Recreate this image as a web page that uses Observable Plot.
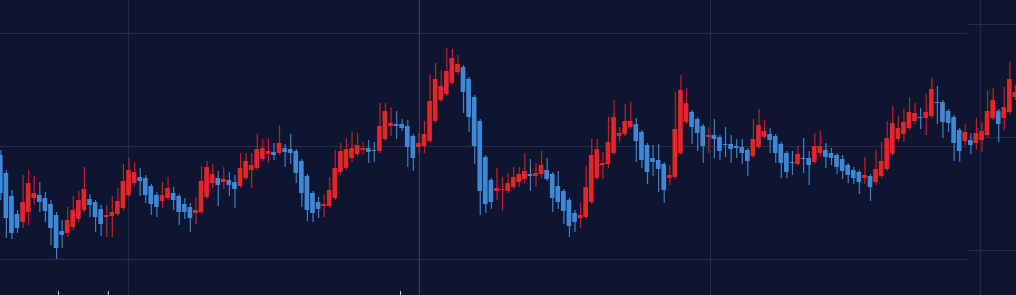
<!DOCTYPE html>
<html><head><meta charset="utf-8">
<script src="https://cdn.jsdelivr.net/npm/d3@7"></script>
<script src="https://cdn.jsdelivr.net/npm/@observablehq/plot@0.6"></script>
<style>html,body{margin:0;padding:0;background:#0e1530;overflow:hidden}#chart svg{display:block}</style>
</head><body><div id="chart"></div>
<script>
// OHLC values, one entry per candle (price units)
const open = [145,127,104,86,78,88,102,105,102,96, 85,69,67,73,81,90,101,98,91,83, 84,86,92,105,117,123,122,114,105,99, 102,107,104,96,93,87,88,103,117,122, 118,120,118,114,122,130,132,141,146,148, 147,152,151,149,139,124,107,98,94,94, 102,128,132,142,146,150,152,150,149,161, 174,176,176,174,164,153,154,159,179,200, 206,217,228,233,221,203,179,143,120,109, 110,109,113,118,121,126,124,126,130,126, 114,109,100,87,82,83,98,122,135,136, 147,164,166,173,176,168,155,142,140,136, 122,123,147,178,188,181,174,163,165,163, 156,156,154,153,150,144,153,163,166,164, 156,147,138,136,142,142,138,147,150,147, 145,141,135,130,128,122,124,118,124,131, 146,161,166,172,179,183,182,184,198,198, 189,183,170,159,160,157,160,165,182,189, 182,188,203];
const close = [107,82,67,72,98,117,107,98,89,72, 52,65,80,90,100,111,95,83,76,85, 88,99,119,130,128,119,105,96,93,105, 112,100,88,88,82,90,119,133,126,115, 121,115,111,132,139,135,151,152,149,145, 157,148,147,127,107,90,87,91,96,110, 132,149,151,152,155,152,148,149,174,189, 177,174,172,153,142,157,166,199,221,214, 229,242,236,208,183,154,109,96,98,112, 111,117,123,126,129,124,127,135,121,102, 98,89,74,78,85,113,145,151,137,158, 183,167,179,179,159,140,128,138,131,110, 125,171,210,197,173,167,154,165,161,149, 155,151,152,147,139,161,175,169,160,147, 137,128,137,146,141,135,154,154,143,142, 133,129,125,122,118,125,113,131,139,162, 177,172,178,188,187,182,188,211,197,178, 177,157,149,168,155,167,169,189,200,176, 193,221,208];
const high = [150,130,110,90,125,130,124,118,108,100, 88,80,93,104,109,133,106,100,95,95, 104,112,136,142,138,132,125,116,108,118, 123,113,106,102,97,103,134,139,136,129, 133,128,125,147,147,147,166,161,161,157, 175,156,166,151,141,126,109,103,106,123, 150,157,162,168,167,158,160,158,197,197, 193,189,181,180,166,167,179,226,237,230, 252,251,245,235,223,205,181,145,122,132, 123,127,133,133,147,141,137,149,142,128, 129,111,102,90,97,134,161,161,148,183, 200,173,196,198,182,170,157,155,156,138, 135,208,225,212,190,183,176,173,181,165, 173,165,161,161,152,181,191,180,172,166, 158,149,149,154,162,149,167,169,157,152, 147,145,137,133,130,143,126,150,158,179, 194,184,191,203,197,192,206,222,214,200, 191,185,172,176,167,182,178,209,212,191, 213,238,215];
const low = [100,62,61,67,72,75,95,88,78,55, 41,52,63,70,78,88,83,68,64,63, 63,84,90,103,114,104,97,85,83,92, 100,90,75,81,68,76,86,101,112,94, 111,104,92,112,120,112,130,139,137,140, 145,133,136,117,93,79,78,82,83,92, 100,125,130,138,144,145,137,138,147,159, 164,161,169,133,129,147,147,157,177,198, 204,215,225,187,168,136,85,87,91,100, 89,107,111,113,117,109,113,122,119,88, 91,76,63,68,72,81,96,120,121,132, 145,158,164,171,138,132,116,124,108,97, 115,121,145,176,156,149,137,147,142,140, 143,137,142,136,124,142,151,161,147,137, 122,122,125,134,127,115,136,143,132,135, 126,121,117,116,106,116,99,115,122,129, 144,158,158,170,176,171,165,182,176,162, 168,139,138,155,146,150,148,163,180,158, 170,186,200];

// grid levels (price) and time grid positions (candle index)
const gridLeft = [41, 154, 267];
const gridRight = [50, 163, 276];
const gridTime = [22.9, 75.1, 127.3, 175.7];
const axisTicks = [10.35, 19.3, 71.7];

const candles = open.map((o, i) => ({i, open: o, close: close[i], high: high[i], low: low[i], up: close[i] >= o}));
const UP = "#e32626", DOWN = "#3f88d6";
const X0 = -0.054, X1 = 182.19, SPLIT = 173.4;

const chart = Plot.plot({
  width: 1016, height: 295, margin: 0,
  x: {type: "linear", domain: [X0, X1], axis: null},
  y: {domain: [5, 300], axis: null},
  style: {background: "#0e1530", overflow: "hidden"},
  marks: [
    Plot.ruleY(gridLeft, {x1: X0, x2: SPLIT, stroke: "#242c48", strokeWidth: 1}),
    Plot.ruleY(gridRight, {x1: SPLIT, x2: X1, stroke: "#242c48", strokeWidth: 1}),
    Plot.ruleX(gridTime, {stroke: d => d === 75.1 ? "#3a4158" : "#262e4a", strokeWidth: 1}),
    Plot.ruleX(axisTicks, {y1: 5, y2: 9, stroke: "#c9ced8", strokeWidth: 1}),
    Plot.ruleX(candles, {x: "i", y1: "low", y2: "high", stroke: d => d.up ? "#c42020" : "#3a80cc", strokeWidth: 1.2}),
    Plot.rect(candles, {x1: d => d.i - 0.42, x2: d => d.i + 0.42, y1: "open", y2: "close", fill: d => d.up ? UP : DOWN})
  ]
});
document.getElementById("chart").append(chart);
</script>
</body></html>
